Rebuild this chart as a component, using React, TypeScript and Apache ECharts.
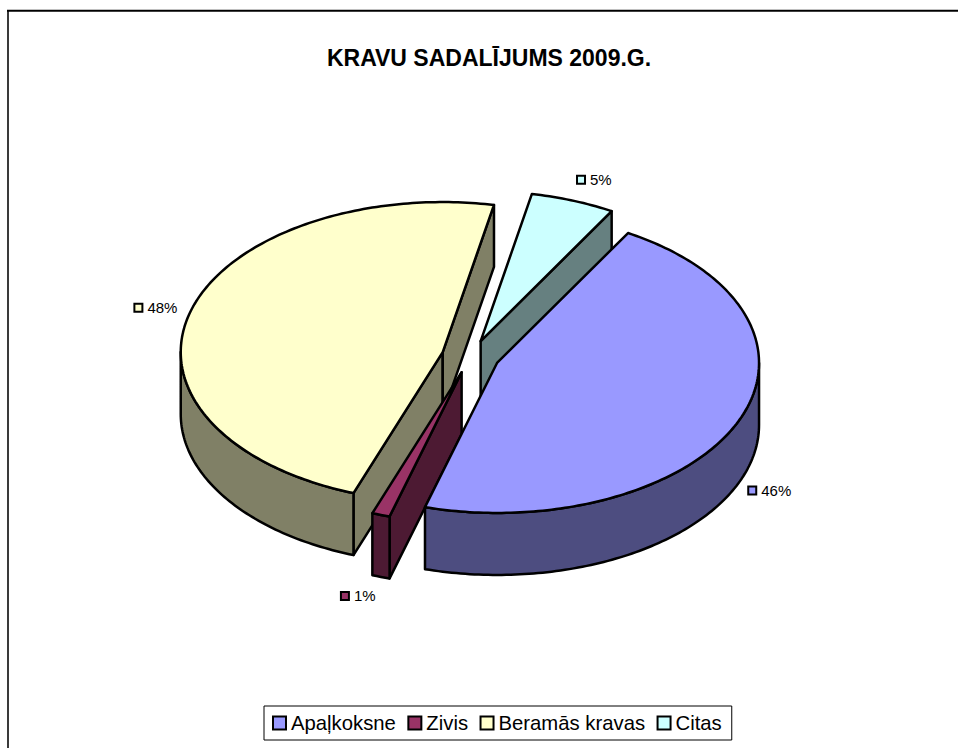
import React, { useEffect, useRef } from "react";
import * as echarts from "echarts";

const titleText = "KRAVU SADALĪJUMS 2009.G.";
const categories = ["Apaļkoksne", "Zivis", "Beramās kravas", "Citas"];
const shares = [46.1, 1.1, 47.6, 5.2];
const topColors = ["#9999FF", "#993366", "#FFFFCC", "#CCFFFF"];
const wallColors = ["#4D4D80", "#4D1A33", "#808066", "#668080"];
// Screen offset of each percentage label from its slice's rim point
const labelOffsets = [
  [10, 7],
  [-40, 19],
  [-56, -4],
  [4, -21],
];

const CX = 470.5;
const CY = 356.5;
const RX = 262;
const RY = 150;
const DEPTH = 62;
const EXPLODE = 0.11;
const START_DEG = 30;
const total = shares.reduce((a, b) => a + b, 0);

const angleSpans = shares.reduce<[number, number][]>((acc, v) => {
  const from = acc.length ? acc[acc.length - 1][1] : START_DEG;
  acc.push([from, from + (v / total) * 360]);
  return acc;
}, []);

const rad = (d: number) => (d * Math.PI) / 180;
const rim = (d: number, ox: number, oy: number, dy = 0): number[] => [
  ox + RX * Math.sin(rad(d)),
  oy - RY * Math.cos(rad(d)) + dy,
];

function arcPoints(a: number, b: number, ox: number, oy: number, dy = 0) {
  const pts: number[][] = [];
  const n = Math.max(2, Math.ceil(Math.abs(b - a)));
  for (let i = 0; i <= n; i++) pts.push(rim(a + ((b - a) * i) / n, ox, oy, dy));
  return pts;
}

const stroke = { stroke: "#000", lineWidth: 2.5, lineJoin: "round" as const };

function renderSlice(index: number) {
  const [a, b] = angleSpans[index];
  const mid = (a + b) / 2;
  const ox = CX + EXPLODE * RX * Math.sin(rad(mid));
  const oy = CY - EXPLODE * RY * Math.cos(rad(mid));
  const wallStyle = { fill: wallColors[index], ...stroke };
  const children: any[] = [];
  const apex = [ox, oy];
  const cutFace = (d: number) => {
    const p = rim(d, ox, oy);
    children.push({
      type: "polygon",
      shape: { points: [apex, p, [p[0], p[1] + DEPTH], [ox, oy + DEPTH]] },
      style: wallStyle,
    });
  };
  // A cut face is seen only when its outward side turns towards the viewer
  if (Math.sin(rad(a)) < 0) cutFace(a);
  if (Math.sin(rad(b)) > 0) cutFace(b);
  const wallFrom = Math.max(a, 90);
  const wallTo = Math.min(b, 270);
  if (wallTo > wallFrom) {
    const front = arcPoints(wallFrom, wallTo, ox, oy);
    const back = arcPoints(wallTo, wallFrom, ox, oy, DEPTH);
    children.push({
      type: "polygon",
      shape: { points: [...front, ...back] },
      style: wallStyle,
    });
  }
  children.push({
    type: "polygon",
    shape: { points: [apex, ...arcPoints(a, b, ox, oy)] },
    style: { fill: topColors[index], ...stroke },
  });
  const anchor = rim(mid, ox, oy, mid > 90 && mid < 270 ? DEPTH : 0);
  const lx = anchor[0] + labelOffsets[index][0];
  const ly = anchor[1] + labelOffsets[index][1];
  children.push({
    type: "rect",
    shape: { x: lx, y: ly - 4, width: 8, height: 8 },
    style: { fill: topColors[index], stroke: "#000", lineWidth: 2 },
  });
  children.push({
    type: "text",
    x: lx + 13,
    y: ly,
    style: {
      text: `${Math.round(shares[index])}%`,
      fill: "#000",
      fontSize: 15,
      fontFamily: "Liberation Sans",
      verticalAlign: "middle",
      align: "left",
    },
  });
  return { type: "group", children };
}

export default function App() {
  const ref = useRef<HTMLDivElement>(null);
  useEffect(() => {
    const chart = echarts.init(ref.current!, undefined, { renderer: "svg" });
    // Back-to-front painting: Citas, Beramās kravas, Zivis, Apaļkoksne
    const paintZ = [5, 4, 3, 2];
    chart.setOption({
      animation: false,
      backgroundColor: "#fff",
      title: {
        text: titleText,
        left: 484,
        top: 41,
        textAlign: "center",
        textStyle: { fontSize: 23, fontWeight: "bold", color: "#000", fontFamily: "Liberation Sans" },
      },
      legend: {
        data: categories.map((name, i) => ({
          name,
          icon: "rect",
          itemStyle: { color: topColors[i], borderColor: "#000", borderWidth: 2 },
        })),
        left: 264,
        top: 706,
        orient: "horizontal",
        itemWidth: 13,
        itemHeight: 13,
        itemGap: 11.5,
        padding: [7, 10, 7, 8],
        borderColor: "#000",
        borderWidth: 1,
        backgroundColor: "#fff",
        selectedMode: false,
        textStyle: { fontSize: 20.3, color: "#000", fontFamily: "Liberation Sans", padding: [0, 0, 0, 0] },
      },
      graphic: [
        {
          type: "line",
          silent: true,
          z: 0,
          shape: { x1: 8, y1: 748, x2: 8, y2: 10 },
          style: { stroke: "#3a3a3a", lineWidth: 2 },
        },
        {
          type: "line",
          silent: true,
          z: 0,
          shape: { x1: 7, y1: 10.75, x2: 958, y2: 10.75 },
          style: { stroke: "#000", lineWidth: 2 },
        },
      ],
      series: categories.map((name, i) => ({
        type: "custom",
        name,
        coordinateSystem: "none",
        z: paintZ[i],
        silent: true,
        itemStyle: { color: topColors[i] },
        data: [shares[i]],
        renderItem: () => renderSlice(i),
      })),
    });
    return () => chart.dispose();
  }, []);
  return <div ref={ref} style={{ position: "fixed", left: 0, top: 0, width: 958, height: 749 }} />;
}
